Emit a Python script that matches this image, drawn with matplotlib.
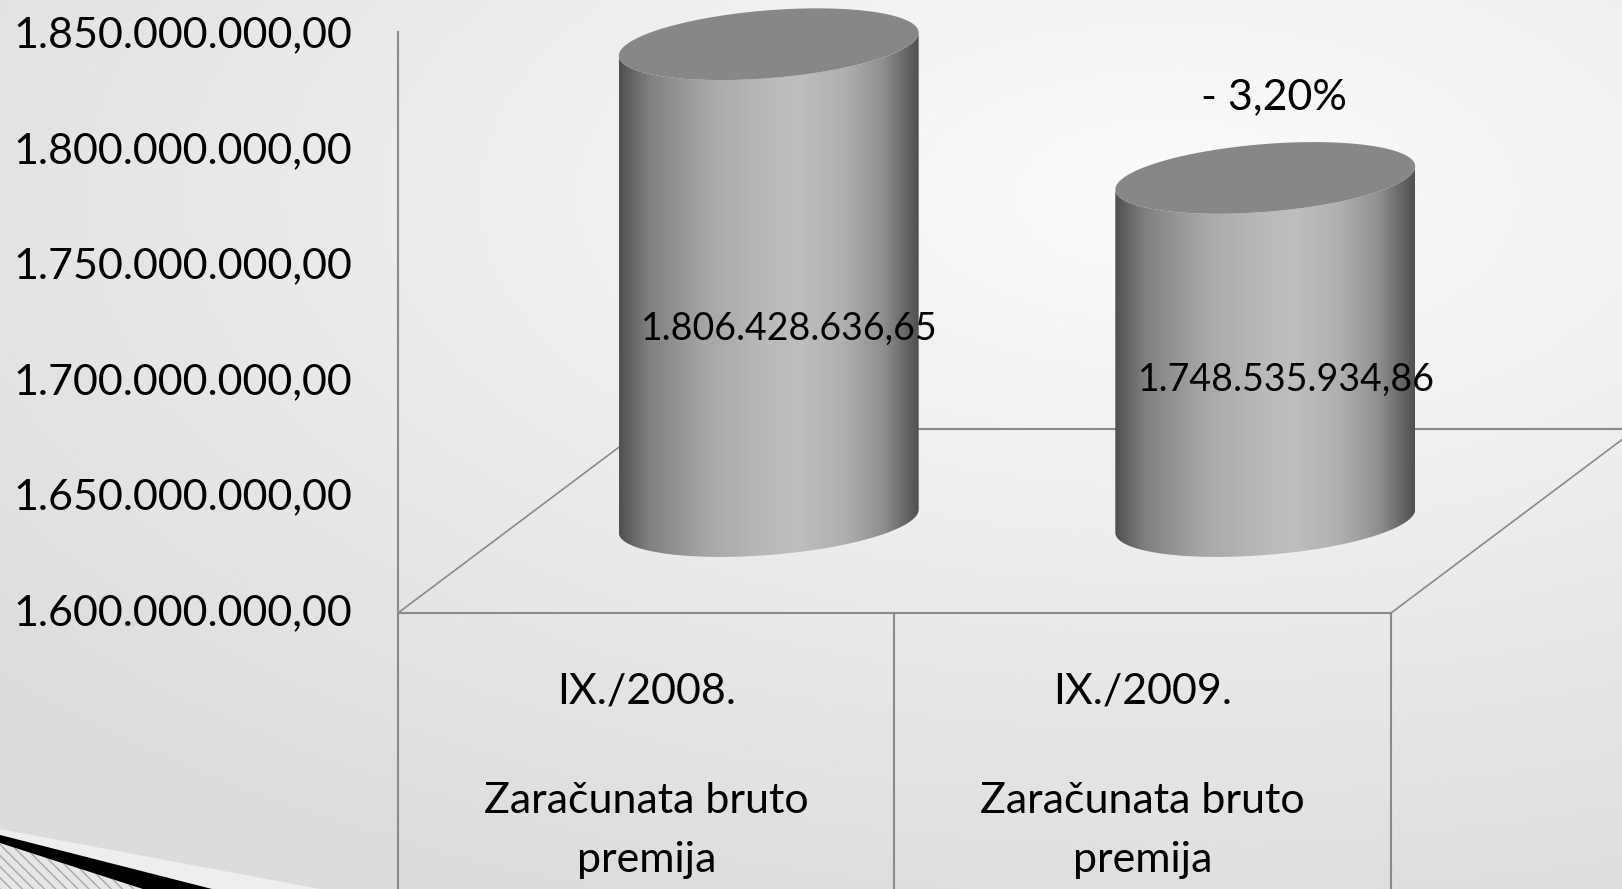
import numpy as np
import matplotlib
matplotlib.use('Agg')
from matplotlib import pyplot as plt
from matplotlib.patches import Polygon
from matplotlib.colors import LinearSegmentedColormap

categories = ['IX./2008.', 'IX./2009.']
sub_labels = [['Zaračunata bruto', 'premija'], ['Zaračunata bruto', 'premija']]
values = [1806428636.65, 1748535934.86]
y_ticks = [1600000000, 1650000000, 1700000000, 1750000000, 1800000000, 1850000000]

plt.rcParams['font.family'] = ['Lato', 'DejaVu Sans']
plt.rcParams['hatch.color'] = '#a8a8a8'
plt.rcParams['hatch.linewidth'] = 1.0


def fmt_num(v):
    return f'{v:,.2f}'.replace(',', ' ').replace('.', ',').replace(' ', '.')


M = 1e6
floor = y_ticks[0] / M
# 3d look
depth_x, depth_y = 0.4935, 79.6
rad_x, rad_y, tilt = 0.302, 14.7, 5.0
line_c = '#8a8a8a'

fig = plt.figure(figsize=(16.22, 8.89), dpi=100)
ax = fig.add_axes([0, 0, 1, 1])
ax.set_xlim(-1.3016, 1.9653)
ax.set_ylim(1480.52, 1865.37)
ax.axis('off')

# slide background
gx, gy = np.meshgrid(np.linspace(0, 1, 800), np.linspace(0, 1, 440))
r = np.sqrt(((gx - 0.72) / 1.0) ** 2 + ((gy - 0.78) / 0.9) ** 2)
bg = np.clip(0.985 - 0.13 * r, 0.86, 0.985)
ax.imshow(bg, cmap='gray', vmin=0, vmax=1, extent=[*ax.get_xlim(), *ax.get_ylim()],
          origin='lower', aspect='auto', zorder=0, interpolation='bilinear')

# floor and axis lines
x0, x1 = -0.5, len(categories) - 0.5
ax.plot([x0, x0], [ax.get_ylim()[0], y_ticks[-1] / M + 1.5], color=line_c, lw=1.5, zorder=1)
ax.plot([x0, x1], [floor, floor], color=line_c, lw=1.5, zorder=1)
for i in range(len(categories)):
    ax.plot([i + 0.5, i + 0.5], [ax.get_ylim()[0], floor], color=line_c, lw=1.5, zorder=1)
ax.plot([x0, x0 + depth_x], [floor, floor + depth_y], color=line_c, lw=1.2, zorder=1)
ax.plot([x1, x1 + depth_x], [floor, floor + depth_y], color=line_c, lw=1.2, zorder=1)
ax.plot([x0 + depth_x, x1 + depth_x], [floor + depth_y, floor + depth_y], color=line_c, lw=1.5, zorder=1)

# y tick labels
for t in y_ticks:
    ax.annotate(fmt_num(t), xy=(x0, t / M), xytext=(-33, 0), textcoords='offset points',
                ha='right', va='center', fontsize=31, color='black')

# category labels
for i, (cat, sub) in enumerate(zip(categories, sub_labels)):
    ax.annotate(cat, xy=(i, floor), xytext=(0, -64.8), textcoords='offset points',
                ha='center', va='baseline', fontsize=31)
    ax.annotate(sub[0], xy=(i, floor), xytext=(0, -144), textcoords='offset points',
                ha='center', va='baseline', fontsize=31)
    ax.annotate(sub[1], xy=(i, floor), xytext=(0, -186.5), textcoords='offset points',
                ha='center', va='baseline', fontsize=31)

cyl_cmap = LinearSegmentedColormap.from_list('cyl', [
    (0.0, '#505050'), (0.1, '#808080'), (0.3, '#a8a8a8'), (0.5, '#bababa'),
    (0.6, '#bebebe'), (0.75, '#b0b0b0'), (0.88, '#909090'), (1.0, '#505050')])

t_front = np.linspace(np.pi, 2 * np.pi, 80)
t_all = np.linspace(0, 2 * np.pi, 160)

for i, v in enumerate(values):
    cx = i + depth_x / 2
    base = floor + depth_y / 2
    top = v / M + depth_y / 2
    # body
    bx = cx + rad_x * np.cos(t_front)
    by_top = top + rad_y * np.sin(t_front) + tilt * np.cos(t_front)
    by_base = base + rad_y * np.sin(t_front) + tilt * np.cos(t_front)
    xs = np.concatenate([bx, bx[::-1]])
    ys = np.concatenate([by_base, by_top[::-1]])
    body = Polygon(np.column_stack([xs, ys]), closed=True, facecolor='none', edgecolor='none', zorder=2)
    ax.add_patch(body)
    grad = ax.imshow(np.linspace(0, 1, 256)[None, :], cmap=cyl_cmap, aspect='auto',
                     extent=[cx - rad_x, cx + rad_x, base - rad_y - 10, top + rad_y + 10],
                     zorder=2, interpolation='bilinear')
    grad.set_clip_path(body)
    # top cap
    cap = Polygon(np.column_stack([cx + rad_x * np.cos(t_all),
                                   top + rad_y * np.sin(t_all) + tilt * np.cos(t_all)]),
                  closed=True, facecolor='#878787', edgecolor='none', zorder=3)
    ax.add_patch(cap)
    # value label
    ax.annotate(fmt_num(v), xy=(cx, base + 0.38 * (top - base)), xytext=(15, 0),
                textcoords='offset points', ha='center', va='baseline', fontsize=27, zorder=4)

# change between periods
change = (values[1] - values[0]) / values[0] * 100
sign = '-' if change < 0 else '+'
ax.annotate(f'{sign} {abs(change):.2f}%'.replace('.', ','),
            xy=(1 + depth_x / 2, values[1] / M + depth_y / 2), xytext=(6.5, 49.7),
            textcoords='offset points', ha='center', va='baseline', fontsize=31, zorder=4)

ax.set_xlim(-1.3016, 1.9653)
ax.set_ylim(1480.52, 1865.37)

# corner decoration of the slide
deco = fig.add_axes([0, 0, 1, 1], facecolor='none')
deco.set_xlim(0, 1622)
deco.set_ylim(889, 0)
deco.axis('off')
deco.add_patch(Polygon([(0, 829), (320, 889), (212, 889), (0, 835)], closed=True,
                       facecolor='#eeeeee', edgecolor='none', zorder=1))
deco.add_patch(Polygon([(0, 843), (143, 889), (0, 889)], closed=True, facecolor='#e6e6e6',
                       edgecolor='#a8a8a8', lw=0, hatch='\\\\\\', zorder=1))
deco.add_patch(Polygon([(0, 835), (212, 889), (143, 889), (0, 843)], closed=True,
                       facecolor='black', edgecolor='none', zorder=2))

fig.savefig('out.png', dpi=100)
